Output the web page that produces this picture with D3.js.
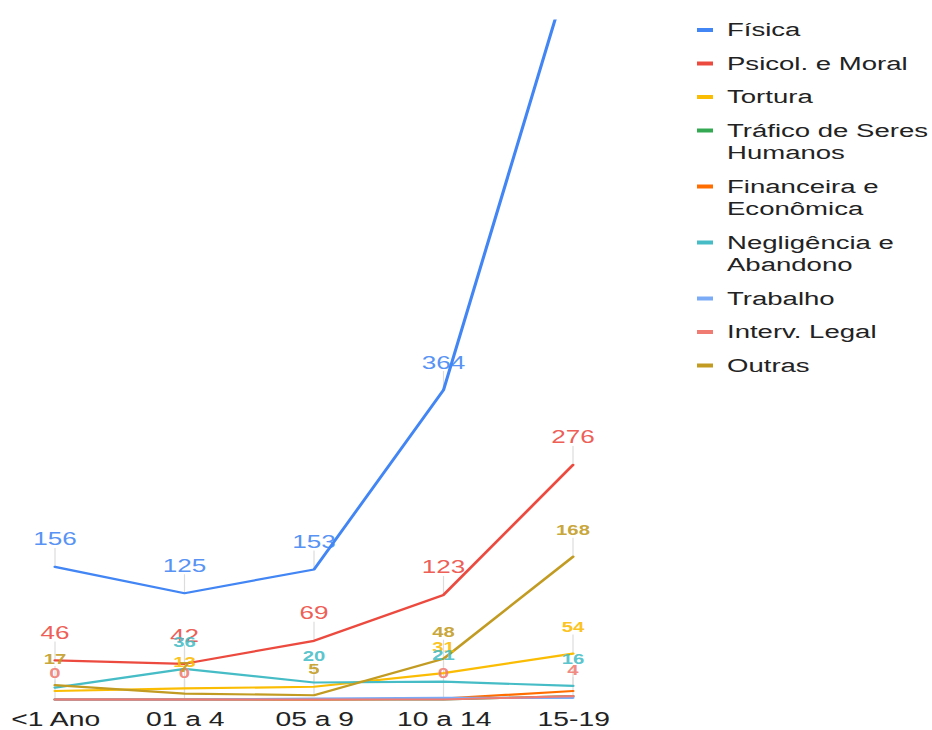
<!DOCTYPE html>
<html>
<head>
<meta charset="utf-8">
<script src="https://cdn.jsdelivr.net/npm/d3@7"></script>
<style>
  html, body { margin: 0; padding: 0; background: #fff; }
  svg { display: block; }
  text { font-family: Arial, "Liberation Sans", sans-serif; }
</style>
</head>
<body>
<div id="chart"></div>
<script>
// Age groups on the x axis
const categories = ["<1 Ano", "01 a 4", "05 a 9", "10 a 14", "15-19"];

// Cases per type of violence, by age group
const fisica      = [156, 125, 153, 364, 870];
const psicol      = [46, 42, 69, 123, 276];
const tortura     = [10, 13, 15, 31, 54];
const trafico     = [0, 0, 0, 0, 4];
const financeira  = [0, 0, 0, 1, 10];
const negligencia = [14, 36, 20, 21, 16];
const trabalho    = [0, 0, 1, 2, 2];
const intervLegal = [0, 0, 0, 0, 4];
const outras      = [17, 7, 5, 48, 168];

// Which points carry a value annotation
const fisicaLabels      = [true, true, true, true, true];
const psicolLabels      = [true, true, true, true, true];
const torturaLabels     = [false, true, false, true, true];
const negligenciaLabels = [false, true, true, true, true];
const intervLegalLabels = [true, true, false, true, true];
const outrasLabels      = [true, true, true, true, true];
const noLabels          = [false, false, false, false, false];

const seriesNames = ["Física", "Psicol. e Moral", "Tortura", "Tráfico de Seres Humanos",
  "Financeira e Econômica", "Negligência e Abandono", "Trabalho", "Interv. Legal", "Outras"];

const series = [
  { name: seriesNames[0], values: fisica,      labels: fisicaLabels },
  { name: seriesNames[1], values: psicol,      labels: psicolLabels },
  { name: seriesNames[2], values: tortura,     labels: torturaLabels },
  { name: seriesNames[3], values: trafico,     labels: noLabels },
  { name: seriesNames[4], values: financeira,  labels: noLabels },
  { name: seriesNames[5], values: negligencia, labels: negligenciaLabels },
  { name: seriesNames[6], values: trabalho,    labels: noLabels },
  { name: seriesNames[7], values: intervLegal, labels: intervLegalLabels },
  { name: seriesNames[8], values: outras,      labels: outrasLabels }
];

// Styling
const colors = ["#4285f4", "#ec4a3f", "#fbbc04", "#34a853", "#ff6d01",
                "#46bdc6", "#7baaf7", "#f07b72", "#c29b22"];
const bigLabelSeries = new Set(["Física", "Psicol. e Moral"]);

// The drawing is laid out in a narrower space and stretched to the full width
const W = 932, H = 730, SX = 1.45;
const VW = W / SX;

const svg = d3.select("#chart").append("svg")
  .attr("width", W).attr("height", H)
  .attr("viewBox", `0 0 ${VW} ${H}`)
  .attr("preserveAspectRatio", "none");

const plot = { left: 55 / SX, right: 573 / SX, top: 19.5, bottom: 699.5 };

const x = d3.scalePoint().domain(categories).range([plot.left, plot.right]);
const y = d3.scaleLinear().domain([0, 800]).range([plot.bottom, plot.top]);
const color = d3.scaleOrdinal().domain(seriesNames).range(colors);

svg.append("defs").append("clipPath").attr("id", "plotClip")
  .append("rect")
  .attr("x", 0).attr("y", plot.top)
  .attr("width", VW).attr("height", H - plot.top);

// Annotation data (only points that are inside the plot area)
const annotations = [];
series.forEach(s => {
  s.values.forEach((v, i) => {
    if (s.labels[i] && y(v) - 30 > 0) {
      annotations.push({ series: s.name, cat: categories[i], value: v });
    }
  });
});

// Annotation stems
svg.append("g").selectAll("line").data(annotations).join("line")
  .attr("x1", d => x(d.cat)).attr("x2", d => x(d.cat))
  .attr("y1", d => y(d.value))
  .attr("y2", d => y(d.value) - 19)
  .attr("stroke", "#dcdcdc")
  .attr("stroke-width", 1 / SX * 1.2);

// Series lines
const line = d3.line()
  .x((d, i) => x(categories[i]))
  .y(d => y(d));

svg.append("g").attr("clip-path", "url(#plotClip)")
  .selectAll("path").data(series).join("path")
  .attr("d", d => line(d.values))
  .attr("fill", "none")
  .attr("stroke", d => color(d.name))
  .attr("stroke-width", 2.2)
  .attr("stroke-linejoin", "round")
  .attr("stroke-linecap", "round");

// Value annotations
svg.append("g").selectAll("text").data(annotations).join("text")
  .attr("x", d => x(d.cat))
  .attr("y", d => y(d.value) - 21.5)
  .attr("text-anchor", "middle")
  .attr("font-size", d => bigLabelSeries.has(d.series) ? 18 : 14)
  .attr("font-weight", d => bigLabelSeries.has(d.series) ? "normal" : "bold")
  .attr("fill", d => color(d.series))
  .attr("fill-opacity", 0.9)
  .text(d => d.value);

// Category axis labels
const xAxis = d3.axisBottom(x).tickSize(0).tickPadding(0);
const axisG = svg.append("g").attr("transform", `translate(0, ${725.5 - 15})`).call(xAxis);
axisG.select(".domain").remove();
axisG.selectAll("text")
  .attr("font-size", 19.5)
  .attr("font-family", 'Arial, "Liberation Sans", sans-serif')
  .attr("fill", "#222")
  .attr("dy", 0)
  .attr("y", 15);

// Legend
const legend = svg.append("g");
const legendX = 697 / SX, legendTextX = 727 / SX;
const legendMaxWidth = 145, rowGap = 33.5, lineHeight = 22.5;
let rowY = 30;
series.forEach(s => {
  const t = legend.append("text")
    .attr("x", legendTextX).attr("y", rowY + 6.5)
    .attr("font-size", 19).attr("fill", "#222");
  // wrap words onto lines that fit the legend column
  const words = s.name.split(" ");
  let lines = [];
  let current = [];
  const probe = t.append("tspan");
  words.forEach(w => {
    const trial = current.concat([w]).join(" ");
    probe.text(trial);
    if (probe.node().getComputedTextLength() > legendMaxWidth && current.length) {
      lines.push(current.join(" "));
      current = [w];
    } else {
      current.push(w);
    }
  });
  lines.push(current.join(" "));
  probe.remove();
  lines.forEach((ln, i) => {
    t.append("tspan").attr("x", legendTextX).attr("dy", i === 0 ? 0 : lineHeight).text(ln);
  });
  legend.append("line")
    .attr("x1", legendX).attr("x2", legendX + 16 / SX)
    .attr("y1", rowY).attr("y2", rowY)
    .attr("stroke", color(s.name))
    .attr("stroke-width", 4);
  rowY += rowGap + (lines.length - 1) * lineHeight;
});
</script>
</body>
</html>
